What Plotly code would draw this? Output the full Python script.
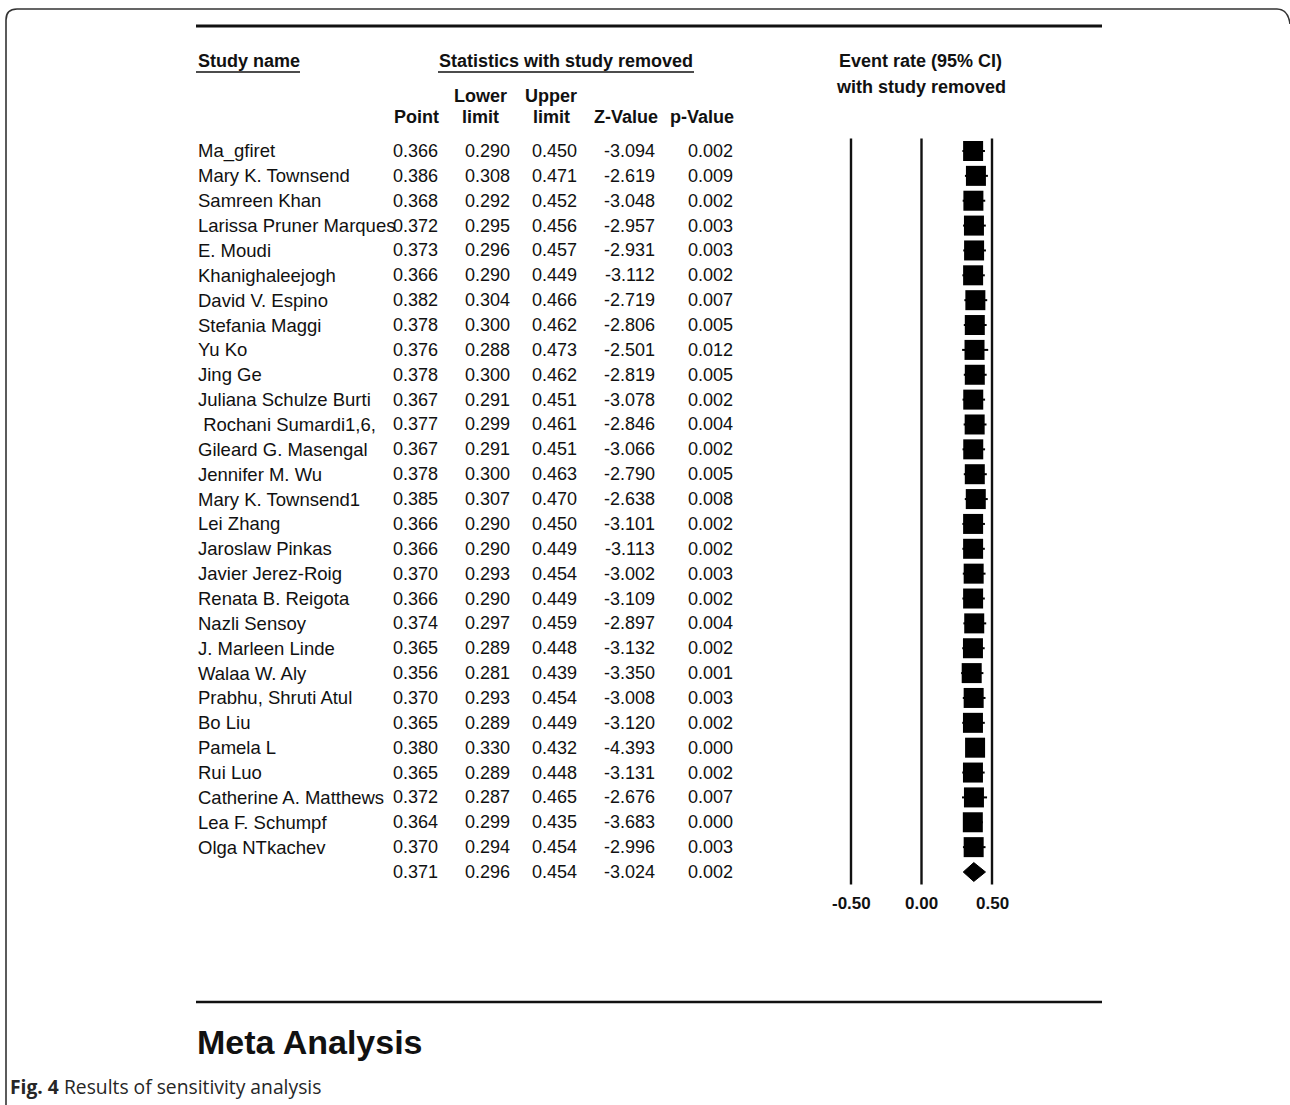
import plotly.graph_objects as go

# ---- sensitivity analysis table: one study removed per row ----
studies = [
    "Ma_gfiret", "Mary K. Townsend", "Samreen Khan", "Larissa Pruner Marques",
    "E. Moudi", "Khanighaleejogh", "David V. Espino", "Stefania Maggi", "Yu Ko",
    "Jing Ge", "Juliana Schulze Burti", " Rochani Sumardi1,6,", "Gileard G. Masengal",
    "Jennifer M. Wu", "Mary K. Townsend1", "Lei Zhang", "Jaroslaw Pinkas",
    "Javier Jerez-Roig", "Renata B. Reigota", "Nazli Sensoy", "J. Marleen Linde",
    "Walaa W. Aly", "Prabhu, Shruti Atul", "Bo Liu", "Pamela L", "Rui Luo",
    "Catherine A. Matthews", "Lea F. Schumpf", "Olga NTkachev",
]
point = [0.366, 0.386, 0.368, 0.372, 0.373, 0.366, 0.382, 0.378, 0.376, 0.378,
         0.367, 0.377, 0.367, 0.378, 0.385, 0.366, 0.366, 0.370, 0.366, 0.374,
         0.365, 0.356, 0.370, 0.365, 0.380, 0.365, 0.372, 0.364, 0.370]
lower = [0.290, 0.308, 0.292, 0.295, 0.296, 0.290, 0.304, 0.300, 0.288, 0.300,
         0.291, 0.299, 0.291, 0.300, 0.307, 0.290, 0.290, 0.293, 0.290, 0.297,
         0.289, 0.281, 0.293, 0.289, 0.330, 0.289, 0.287, 0.299, 0.294]
upper = [0.450, 0.471, 0.452, 0.456, 0.457, 0.449, 0.466, 0.462, 0.473, 0.462,
         0.451, 0.461, 0.451, 0.463, 0.470, 0.450, 0.449, 0.454, 0.449, 0.459,
         0.448, 0.439, 0.454, 0.449, 0.432, 0.448, 0.465, 0.435, 0.454]
z_value = [-3.094, -2.619, -3.048, -2.957, -2.931, -3.112, -2.719, -2.806, -2.501, -2.819,
           -3.078, -2.846, -3.066, -2.790, -2.638, -3.101, -3.113, -3.002, -3.109, -2.897,
           -3.132, -3.350, -3.008, -3.120, -4.393, -3.131, -2.676, -3.683, -2.996]
p_value = [0.002, 0.009, 0.002, 0.003, 0.003, 0.002, 0.007, 0.005, 0.012, 0.005,
           0.002, 0.004, 0.002, 0.005, 0.008, 0.002, 0.002, 0.003, 0.002, 0.004,
           0.002, 0.001, 0.003, 0.002, 0.000, 0.002, 0.007, 0.000, 0.003]

# pooled estimate (bottom row)
pooled_point, pooled_lower, pooled_upper = 0.371, 0.296, 0.454
pooled_z, pooled_p = -3.024, 0.002

# forest-plot axis ticks
tick_values = [-0.5, 0.0, 0.5]
tick_labels = ["-0.50", "0.00", "0.50"]

W, H = 1290, 1105
INK = "#111111"
FONT = "Liberation Sans, Arial, sans-serif"

n = len(studies)
rows = list(range(n))
pooled_row = n

# row pitch in pixels and first row centre -> y axis range (rows grow downward)
ROW0, PITCH = 151.0, 24.862
y_top = -ROW0 / PITCH
y_bot = (H - ROW0) / PITCH


def px(x):
    return x / W


def py(y):
    return 1 - y / H


fig = go.Figure()

# reference lines of the forest plot
line_top, line_bot = -0.5, pooled_row + 0.5
for tv in tick_values:
    fig.add_trace(go.Scatter(
        x=[tv, tv], y=[line_top, line_bot], mode="lines",
        line=dict(color=INK, width=2.4), hoverinfo="skip", showlegend=False,
    ))

# study-removed estimates with 95% CI
fig.add_trace(go.Scatter(
    x=point, y=rows, mode="markers",
    marker=dict(symbol="square", size=20, color="black", line=dict(width=0)),
    error_x=dict(type="data", symmetric=False,
                 array=[u - p for u, p in zip(upper, point)],
                 arrayminus=[p - l for p, l in zip(point, lower)],
                 thickness=2, width=0, color="black"),
    cliponaxis=False, showlegend=False,
))

# pooled diamond
half_h = 0.38
fig.add_trace(go.Scatter(
    x=[pooled_lower, pooled_point, pooled_upper, pooled_point, pooled_lower],
    y=[pooled_row, pooled_row - half_h, pooled_row, pooled_row + half_h, pooled_row],
    mode="lines", fill="toself", fillcolor="black",
    line=dict(color="black", width=1), showlegend=False, hoverinfo="skip",
))

ann = []


def text(x, y, s, size=18, bold=False, xanchor="left", xref="paper", yref="y",
         color=INK, family=FONT):
    ann.append(dict(
        x=x, y=y, xref=xref, yref=yref, text=f"<b>{s}</b>" if bold else s,
        showarrow=False, xanchor=xanchor, yanchor="middle",
        font=dict(size=size, color=color, family=family),
    ))


# table body
col_right = {"point": 440, "lower": 512, "upper": 579, "z": 657, "p": 735}
for i in rows:
    name = studies[i]
    if name.startswith(" "):
        name = "\u00a0" + name.lstrip()
    text(px(196), i, name, size=18.5)
    text(px(col_right["point"]), i, f"{point[i]:.3f}", xanchor="right")
    text(px(col_right["lower"]), i, f"{lower[i]:.3f}", xanchor="right")
    text(px(col_right["upper"]), i, f"{upper[i]:.3f}", xanchor="right")
    text(px(col_right["z"]), i, f"{z_value[i]:.3f}", xanchor="right")
    text(px(col_right["p"]), i, f"{p_value[i]:.3f}", xanchor="right")

text(px(col_right["point"]), pooled_row, f"{pooled_point:.3f}", xanchor="right")
text(px(col_right["lower"]), pooled_row, f"{pooled_lower:.3f}", xanchor="right")
text(px(col_right["upper"]), pooled_row, f"{pooled_upper:.3f}", xanchor="right")
text(px(col_right["z"]), pooled_row, f"{pooled_z:.3f}", xanchor="right")
text(px(col_right["p"]), pooled_row, f"{pooled_p:.3f}", xanchor="right")

# headers
text(px(196), py(61), "Study name", bold=True, yref="paper")
text(px(565.5), py(61), "Statistics with study removed", bold=True, xanchor="center", yref="paper")
text(px(920), py(61), "Event rate (95% CI)", bold=True, xanchor="center", yref="paper")
text(px(921), py(87), "with study removed", bold=True, xanchor="center", yref="paper")
text(px(441), py(117), "Point", bold=True, xanchor="right", yref="paper")
text(px(480.5), py(96), "Lower", bold=True, xanchor="center", yref="paper")
text(px(480.5), py(117), "limit", bold=True, xanchor="center", yref="paper")
text(px(551), py(96), "Upper", bold=True, xanchor="center", yref="paper")
text(px(551), py(117), "limit", bold=True, xanchor="center", yref="paper")
text(px(660), py(117), "Z-Value", bold=True, xanchor="right", yref="paper")
text(px(736), py(117), "p-Value", bold=True, xanchor="right", yref="paper")

# forest axis labels
for tv, tl in zip(tick_values, tick_labels):
    text(tv, py(903), tl, size=17, bold=True, xanchor="center", xref="x", yref="paper")

# title block and caption
text(px(195), py(1042), "Meta Analysis", size=34, bold=True, yref="paper")
text(px(8), py(1086), "<b>Fig. 4</b> Results of sensitivity analysis", size=19.3,
     yref="paper", color="#262626", family="Open Sans, sans-serif")

shapes = [
    # rule above the table
    dict(type="line", xref="paper", yref="paper", x0=px(196), x1=px(1102),
         y0=py(26), y1=py(26), line=dict(color=INK, width=3)),
    # heading underlines
    dict(type="line", xref="paper", yref="paper", x0=px(196), x1=px(300),
         y0=py(72), y1=py(72), line=dict(color=INK, width=1.5)),
    dict(type="line", xref="paper", yref="paper", x0=px(438), x1=px(694),
         y0=py(72), y1=py(72), line=dict(color=INK, width=1.5)),
    # rule above the title block
    dict(type="line", xref="paper", yref="paper", x0=px(196), x1=px(1102),
         y0=py(1002), y1=py(1002), line=dict(color=INK, width=2.5)),
    # rounded outer frame (right edge runs just past the page)
    dict(type="path", xref="paper", yref="paper",
         path=(f"M {px(6)},{py(1106)} L {px(6)},{py(20)} "
               f"Q {px(6)},{py(9)} {px(17)},{py(9)} "
               f"L {px(1277)},{py(9)} Q {px(1288)},{py(9)} {px(1290)},{py(24)}"),
         line=dict(color="#333333", width=1.6)),
]

fig.update_layout(
    width=W, height=H,
    margin=dict(l=0, r=0, t=0, b=0),
    paper_bgcolor="white", plot_bgcolor="white",
    annotations=ann, shapes=shapes, showlegend=False,
    xaxis=dict(domain=[px(820), px(1040)],
               range=[(820 - 921.5) / 141.0, (1040 - 921.5) / 141.0],
               visible=False, fixedrange=True),
    yaxis=dict(domain=[0, 1], range=[y_bot, y_top], visible=False, fixedrange=True),
)

fig.write_html("out.html")
